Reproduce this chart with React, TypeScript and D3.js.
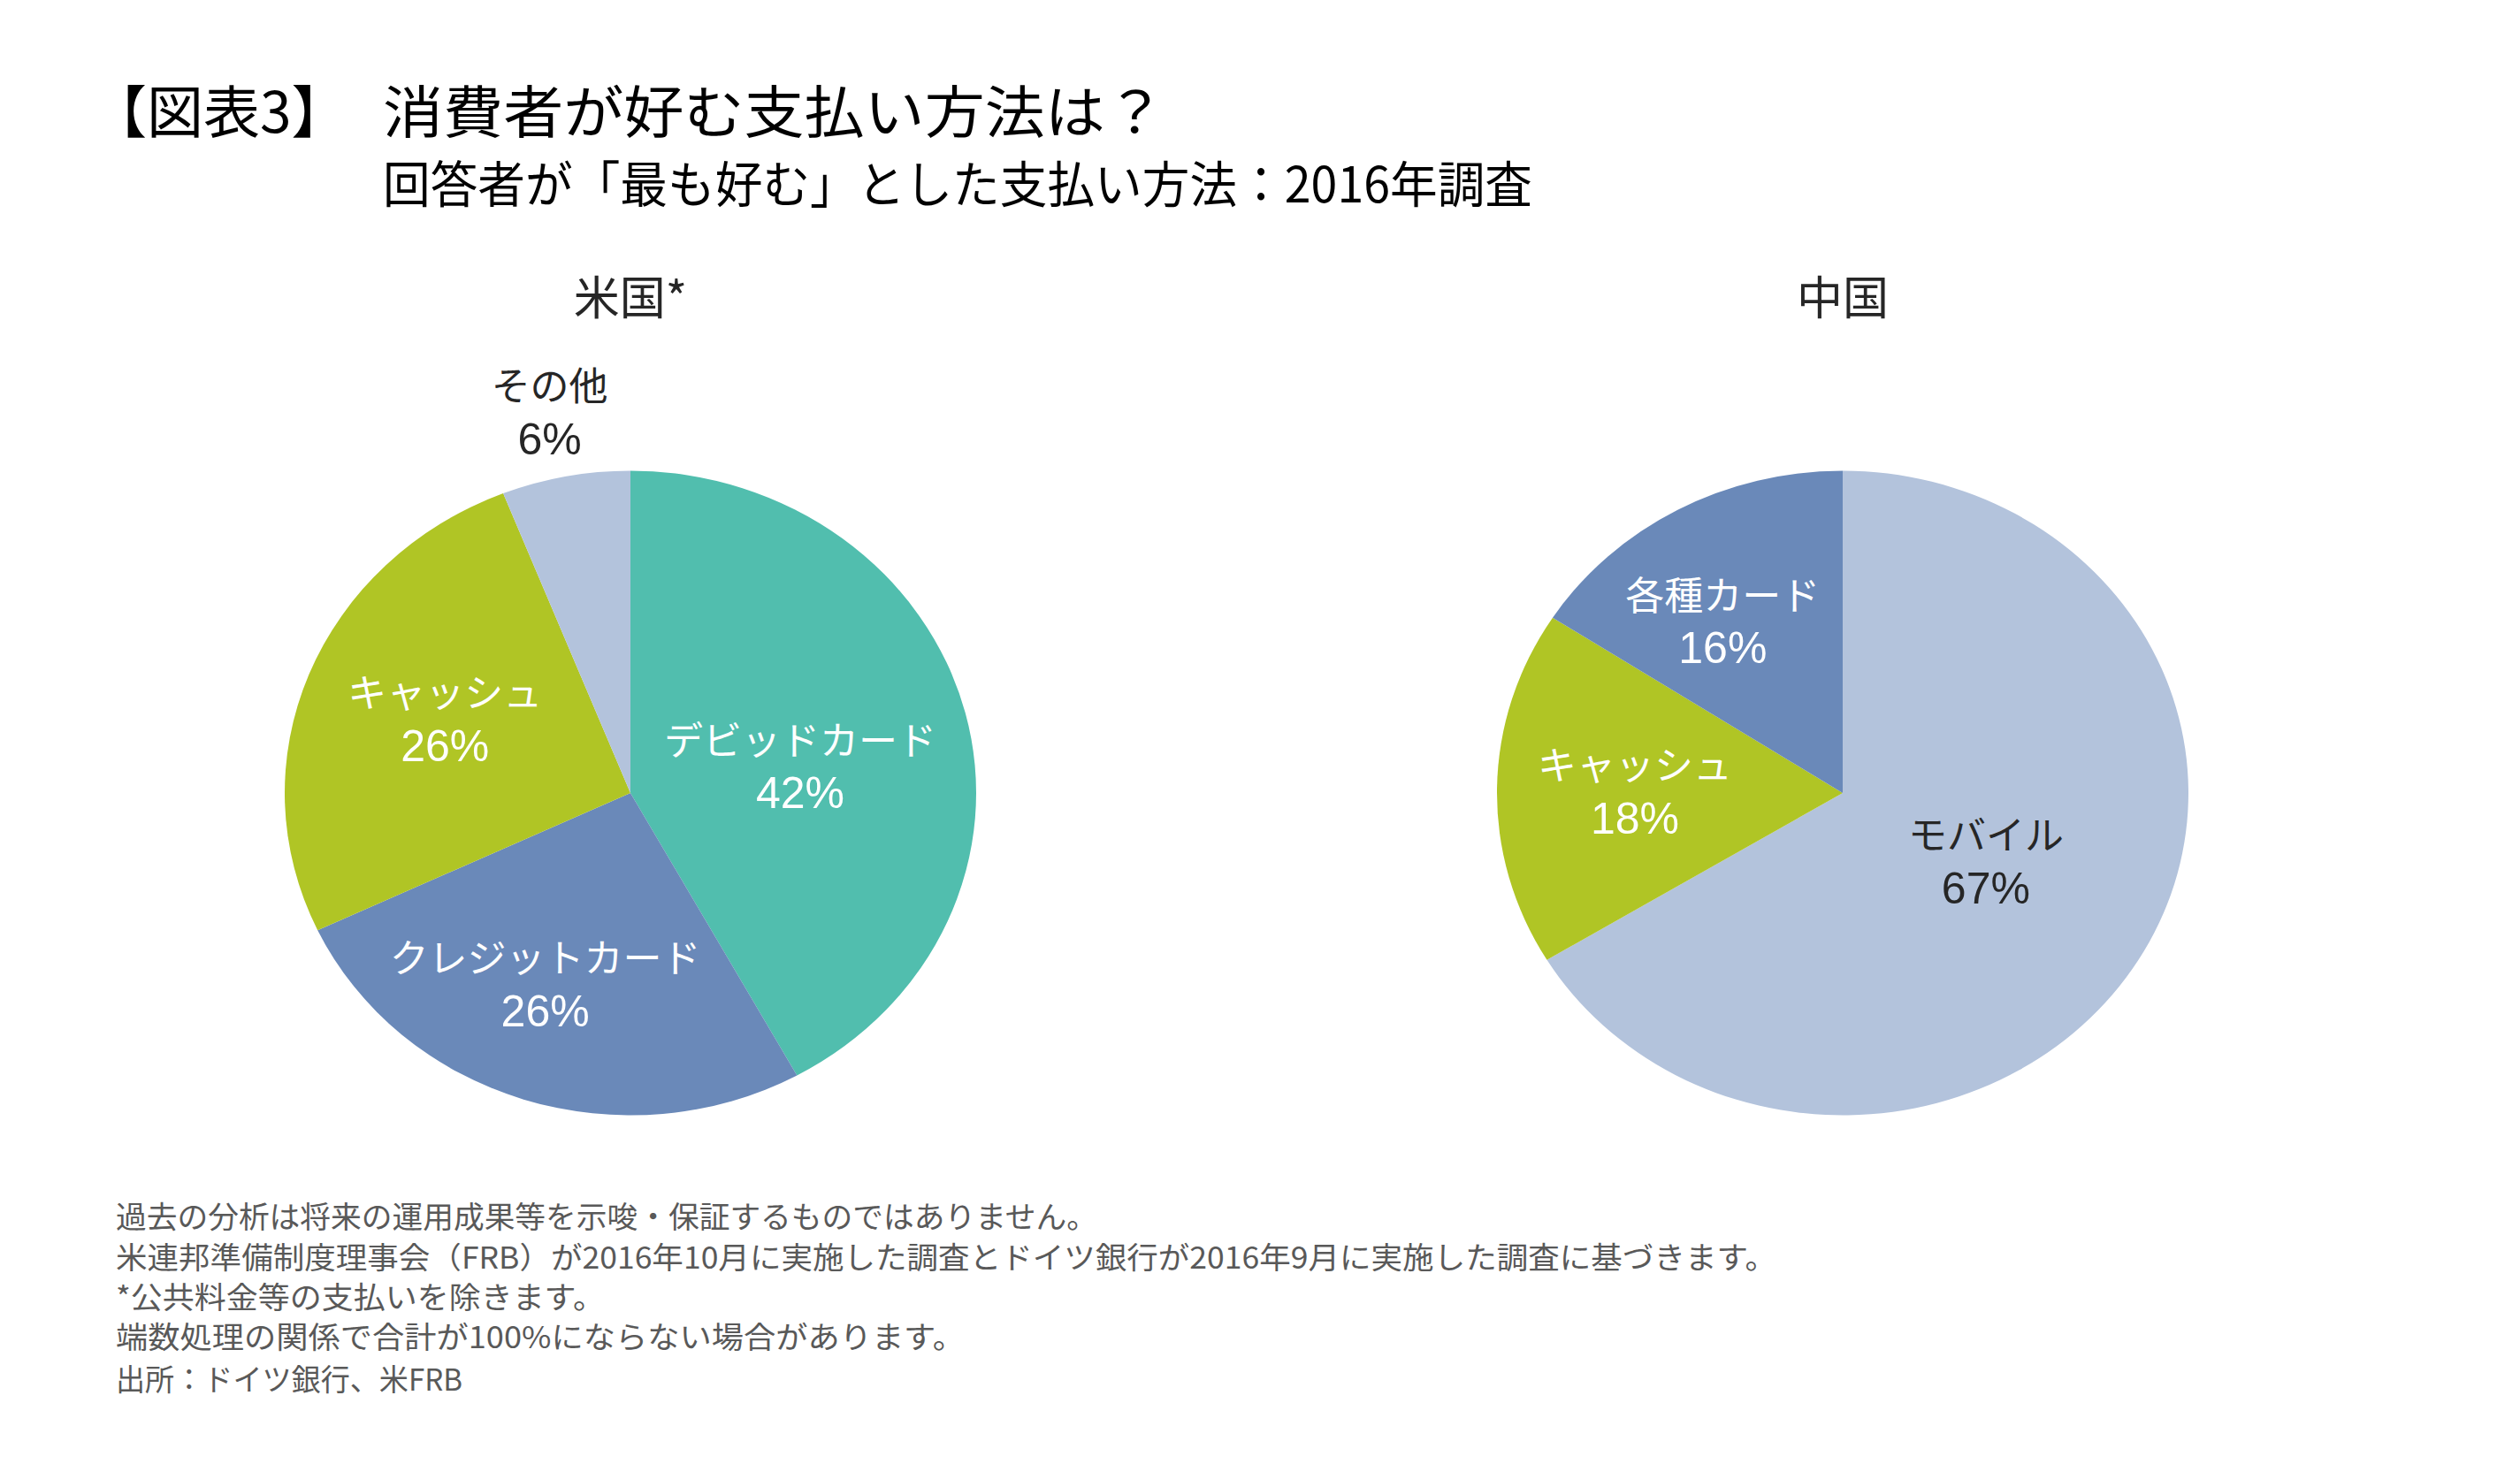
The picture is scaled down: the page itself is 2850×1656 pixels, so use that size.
import React from 'react';
import * as d3 from 'd3';

const W = 2850;
const H = 1656;

// ---- data ----
const usCategories = ['デビッドカード', 'クレジットカード', 'キャッシュ', 'その他'];
const usValues = [42, 26, 26, 6];
const cnCategories = ['モバイル', 'キャッシュ', '各種カード'];
const cnValues = [67, 18, 16];

const titleLabel = '【図表3】';
const titleText = '消費者が好む支払い方法は？';
const subtitleText = '回答者が「最も好む」とした支払い方法：2016年調査';
const usTitle = '米国*';
const cnTitle = '中国';
const footnotes = [
  '過去の分析は将来の運用成果等を示唆・保証するものではありません。',
  '米連邦準備制度理事会（FRB）が2016年10月に実施した調査とドイツ銀行が2016年9月に実施した調査に基づきます。',
  '*公共料金等の支払いを除きます。',
  '端数処理の関係で合計が100%にならない場合があります。',
  '出所：ドイツ銀行、米FRB',
];

// ---- styles / layout ----
const usColors = ['#51BEAE', '#6A89B9', '#B0C525', '#B3C3DC'];
const usLabelColors = ['#ffffff', '#ffffff', '#ffffff', '#262626'];
const cnColors = ['#B3C3DC', '#B0C525', '#6A89B9'];
const cnLabelColors = ['#262626', '#ffffff', '#ffffff'];
const usLabelLayout = [
  { r: 0.498, nudge: 4.9 },
  { r: 0.644, nudge: 4.5 },
  { r: 0.583, nudge: 1.4 },
  { r: 1.203, nudge: -0.4 },
];
const cnLabelLayout = [
  { r: 0.466, nudge: -2.1 },
  { r: 0.601, nudge: -0.6 },
  { r: 0.635, nudge: -4.6 },
];
const footLengths = [1110, 1878, 553, 960, 392];
const footY = [1374, 1420, 1465, 1510, 1558];

const JP = '"Noto Sans CJK JP", "Noto Sans", sans-serif';
const LABEL_FONT = '"Liberation Sans", "Noto Sans CJK JP", sans-serif';

type PieProps = {
  cx: number;
  cy: number;
  rx: number;
  ry: number;
  categories: string[];
  values: number[];
  colors: string[];
  labelColors: string[];
  layout: { r: number; nudge: number }[];
  title: string;
};

function EllipsePie(p: PieProps) {
  const arcs = d3.pie<number>().sort(null).value((d) => d)(p.values);
  const arc = d3.arc<d3.PieArcDatum<number>>().innerRadius(0).outerRadius(p.ry);
  const sx = p.rx / p.ry;
  return (
    <g>
      <text
        x={p.cx}
        y={333}
        textAnchor="middle"
        dominantBaseline="central"
        fontFamily={JP}
        fontSize={52}
        fill="#262626"
      >
        {p.title}
      </text>
      <g transform={`translate(${p.cx},${p.cy}) scale(${sx},1)`}>
        {arcs.map((a, i) => (
          <path key={i} d={arc(a) || ''} fill={p.colors[i]} />
        ))}
      </g>
      {arcs.map((a, i) => {
        const mid = (a.startAngle + a.endAngle) / 2 + (p.layout[i].nudge * Math.PI) / 180;
        const f = p.layout[i].r;
        const x = p.cx + Math.sin(mid) * p.rx * f;
        const y = p.cy - Math.cos(mid) * p.ry * f;
        return (
          <g key={'l' + i} fontFamily={LABEL_FONT} fill={p.labelColors[i]} textAnchor="middle">
            <text x={x} y={y - 29} dominantBaseline="central" fontSize={44}>
              {p.categories[i]}
            </text>
            <text x={x} y={y + 30} dominantBaseline="central" fontSize={50}>
              {p.values[i] + '%'}
            </text>
          </g>
        );
      })}
    </g>
  );
}

export default function App() {
  return (
    <svg
      width={W}
      height={H}
      viewBox={`0 0 ${W} ${H}`}
      style={{ position: 'absolute', left: 0, top: 0, background: '#ffffff' }}
    >
      <rect x={0} y={0} width={W} height={H} fill="#ffffff" />
      <text x={102} y={122} dominantBaseline="central" fontFamily={JP} fontWeight={400} fontSize={64} fill="#000">
        {titleLabel}
      </text>
      <text
        x={433}
        y={122}
        dominantBaseline="central"
        fontFamily={JP}
        fontWeight={400}
        fontSize={64}
        fill="#000"
        textLength={885}
        lengthAdjust="spacingAndGlyphs"
      >
        {titleText}
      </text>
      <text
        x={433}
        y={204}
        dominantBaseline="central"
        fontFamily={JP}
        fontWeight={400}
        fontSize={56}
        fill="#000"
        textLength={1300}
        lengthAdjust="spacingAndGlyphs"
      >
        {subtitleText}
      </text>

      <EllipsePie
        cx={713}
        cy={897}
        rx={391}
        ry={364.5}
        categories={usCategories}
        values={usValues}
        colors={usColors}
        labelColors={usLabelColors}
        layout={usLabelLayout}
        title={usTitle}
      />
      <EllipsePie
        cx={2084}
        cy={897}
        rx={391}
        ry={364.5}
        categories={cnCategories}
        values={cnValues}
        colors={cnColors}
        labelColors={cnLabelColors}
        layout={cnLabelLayout}
        title={cnTitle}
      />

      {footnotes.map((t, i) => (
        <text
          key={i}
          x={131}
          y={footY[i]}
          dominantBaseline="central"
          fontFamily={JP}
          fontSize={34}
          fill="#595959"
          textLength={footLengths[i]}
          lengthAdjust="spacingAndGlyphs"
        >
          {t}
        </text>
      ))}
    </svg>
  );
}
